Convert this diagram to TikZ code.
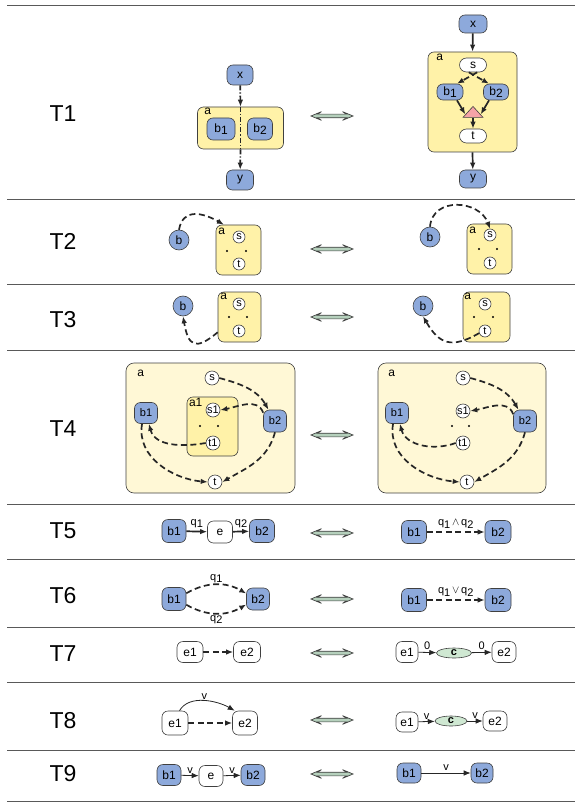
\documentclass[tikz,border=0pt]{standalone}
\usepackage{fontspec}
\setmainfont{Liberation Sans}
\usetikzlibrary{shapes.geometric, shapes.arrows, arrows.meta, calc}
\definecolor{nodeblue}{RGB}{141,169,219}
\definecolor{boxyellow}{RGB}{255,242,168}
\definecolor{paleyellow}{RGB}{255,248,214}
\definecolor{cgreen}{RGB}{207,232,210}
\definecolor{swapgreen}{RGB}{181,208,188}
\definecolor{trired}{RGB}{245,163,168}
\definecolor{rim}{RGB}{64,64,64}
\newcommand{\lo}[2]{#1\raisebox{-2.5pt}{#2}}
\tikzset{
    rule/.style = {draw=black!65, line width=.8pt},
    rowlab/.style = {font=\fontsize{23}{26}\selectfont},
    swap/.style = {double arrow, draw=rim, line width=.7pt, fill=swapgreen, minimum height=42, minimum width=8, double arrow head extend=2.5pt, double arrow tip angle=45, double arrow head indent=4pt, inner sep=1.5pt},
    cont/.style = {draw=rim, line width=.6pt, fill=boxyellow, rounded corners=6pt, inner sep=0pt},
    clab/.style = {inner sep=0pt, font=\fontsize{12}{13}\selectfont},
    vnode/.style = {draw=rim, line width=.6pt, fill=nodeblue, rounded corners=6pt, inner sep=0pt, minimum width=24, minimum height=21, font=\fontsize{12}{13}\selectfont},
    wnode/.style = {vnode, fill=white},
    pnode/.style = {vnode, fill=white, rounded corners=7pt, minimum width=27, minimum height=14},
    circ/.style = {circle, draw=rim, line width=.6pt, fill=nodeblue, inner sep=0pt, minimum size=20, font=\fontsize{12}{13}\selectfont},
    rnode/.style = {circ, fill=white, minimum size=12, font=\fontsize{11}{12}\selectfont},
    dot/.style = {circle, fill=black, inner sep=0pt, minimum size=2.4},
    cnode/.style = {ellipse, draw=rim, line width=.6pt, fill=cgreen, inner sep=0pt, minimum width=35, minimum height=10, font=\bfseries\fontsize{11}{12}\selectfont},
    tri/.style = {isosceles triangle, isosceles triangle stretches, shape border rotate=90, draw=rim, line width=.6pt, fill=trired, inner sep=0pt, minimum width=20, minimum height=11},
    flow/.style = {line width=1.7pt, draw=black!85},
    thin flow/.style = {line width=.8pt, draw=black!85},
    broken/.style = {dash pattern=on 6pt off 3.5pt},
    elab/.style = {inner sep=1pt, font=\fontsize{11}{12}\selectfont},
    >={Latex[length=7pt, width=5.5pt]},
}
\begin{document}
\begin{tikzpicture}[x=1pt, y=1pt]
\useasboundingbox (0,0) rectangle (576,-802);
\foreach \yy in {5,199,284,350,504,559,627,682,750,801}
    \draw[rule] (7,-\yy) -- (575,-\yy);
\foreach \lab/\yy in {T1/114, T2/241, T3/320, T4/429, T5/531, T6/596, T7/654, T8/721, T9/774}
    \node[rowlab] (\lab) at (63,-\yy) {\lab};
\foreach \yy [count=\i] in {116,249,317,435,533,599,653,720,774}
    \node[swap] (sw\i) at (332,-\yy) {};

\node[vnode, minimum width=26, minimum height=20] (L1x) at (240,-75) {x};
\node[cont, minimum width=86, minimum height=42] (L1a) at (240.5,-128) {};
\node[clab] (L1al) at ($(L1a.north west)+(10.5,-5)$) {a};
\node[vnode, minimum width=28, minimum height=22] (L1b1) at (221,-129) {\lo{b}{1}};
\node[vnode, minimum width=25, minimum height=22] (L1b2) at (260,-129) {\lo{b}{2}};
\node[vnode, minimum width=27, minimum height=20] (L1y) at (240,-180) {y};
\draw[flow, dash pattern=on 5pt off 2pt on 1.3pt off 2pt, ->] (L1x) -- (L1a.north);
\draw[flow, dash pattern=on 5pt off 2pt on 1.3pt off 2pt] (L1a.north) -- (L1a.south);
\draw[flow, dash pattern=on 5pt off 2pt on 1.3pt off 2pt, ->] (L1a.south) -- (L1y);

\node[vnode, minimum width=28, minimum height=18] (R1x) at (473,-24) {x};
\node[cont, minimum width=89, minimum height=100] (R1a) at (472.5,-102) {};
\node[clab] (R1al) at ($(R1a.north west)+(12,-6)$) {a};
\node[pnode] (R1s) at (473,-65) {s};
\node[vnode, minimum width=26, minimum height=16, rounded corners=6pt] (R1b1) at (450,-92) {\lo{b}{1}};
\node[vnode, minimum width=25, minimum height=16, rounded corners=6pt] (R1b2) at (496,-92) {\lo{b}{2}};
\node[tri] (R1j) at (473,-113) {};
\node[pnode] (R1t) at (473,-136) {t};
\node[vnode, minimum width=27, minimum height=18] (R1y) at (473,-179) {y};
\draw[flow, ->] (R1x) -- (R1a.north);
\draw[flow, broken, ->] (R1s.-60) -- (R1b1.50);
\draw[flow, broken, ->] (R1s.-120) -- (R1b2.130);
\draw[flow, ->] (R1b1.-50) -- (R1j.190);
\draw[flow, ->] (R1b2.-130) -- (R1j.-10);
\draw[flow, ->] (R1j) -- (R1t);
\draw[flow, ->] (R1a.south) -- (R1y);

\node[circ] (L2b) at (179,-240) {b};
\node[cont, minimum width=45, minimum height=50] (L2a) at (238.5,-250) {};
\node[clab] (L2al) at ($(L2a.north west)+(6,-7)$) {a};
\node[rnode] (L2s) at (239,-237) {s};
\node[rnode] (L2t) at (239,-264) {t};
\node[dot] (L2d1) at (227,-251) {};
\node[dot] (L2d2) at (246,-251) {};
\draw[flow, broken, ->] (L2b.north) to[out=80, in=150, looseness=1.3] (L2a.120);

\node[circ] (R2b) at (430,-237) {b};
\node[cont, minimum width=45, minimum height=50] (R2a) at (489.5,-249) {};
\node[clab] (R2al) at ($(R2a.north west)+(6,-7)$) {a};
\node[rnode] (R2s) at (490,-235) {s};
\node[rnode] (R2t) at (490,-263) {t};
\node[dot] (R2d1) at (479,-249) {};
\node[dot] (R2d2) at (497,-249) {};
\draw[flow, broken, ->] (R2b.north) to[out=85, in=110, looseness=1.3] (R2s.north);

\node[circ] (L3b) at (183,-306) {b};
\node[cont, minimum width=43, minimum height=50] (L3a) at (239.5,-317) {};
\node[clab] (L3al) at ($(L3a.north west)+(6,-5)$) {a};
\node[rnode] (L3s) at (239,-304) {s};
\node[rnode] (L3t) at (239,-331) {t};
\node[dot] (L3d1) at (229,-317) {};
\node[dot] (L3d2) at (247,-317) {};
\draw[flow, broken, ->] (L3a.215) to[out=220, in=-80, looseness=2] (L3b.south);

\node[circ] (R3b) at (423,-306) {b};
\node[cont, minimum width=47, minimum height=50] (R3a) at (486.5,-317) {};
\node[clab] (R3al) at ($(R3a.north west)+(5,-5)$) {a};
\node[rnode] (R3s) at (485,-304) {s};
\node[rnode] (R3t) at (485,-331) {t};
\node[dot] (R3d1) at (474,-317) {};
\node[dot] (R3d2) at (493,-317) {};
\draw[flow, broken, ->] (R3t.200) to[out=210, in=-60, looseness=1.4] (R3b.south);

\node[cont, fill=paleyellow, minimum width=169, minimum height=130, rounded corners=8pt] (L4a) at (210.5,-428) {};
\node[clab] (L4al) at ($(L4a.north west)+(15,-11)$) {a};
\node[rnode, minimum size=14] (L4s) at (212,-378) {s};
\node[vnode, minimum width=23, minimum height=21, font=\fontsize{11}{12}\selectfont] (L4b1) at (146,-413) {b1};
\node[cont, minimum width=51, minimum height=59] (L4a1) at (212.5,-426.5) {};
\node[clab] (L4a1l) at ($(L4a1.north west)+(9,-6)$) {a1};
\node[rnode, minimum size=14] (L4s1) at (213,-410) {s1};
\node[rnode, minimum size=14] (L4t1) at (213,-443) {t1};
\node[dot] (L4d1) at (200,-426) {};
\node[dot] (L4d2) at (218,-426) {};
\node[vnode, minimum width=23, minimum height=22, font=\fontsize{11}{12}\selectfont] (L4b2) at (275,-421) {b2};
\node[rnode, minimum size=14] (L4t) at (215,-482) {t};
\draw[flow, broken, ->] (L4s.east) to[out=-15, in=120] (L4b2.120);
\draw[flow, broken, ->] (L4b2.145) to[out=110, in=10] (L4s1.east);
\draw[flow, broken, ->] (L4t1.west) to[out=190, in=-75] (L4b1.285);
\draw[flow, broken, ->] (L4b1.250) to[out=-100, in=175] (L4t.west);
\draw[flow, broken, ->] (L4b2.south) to[out=-105, in=30] (L4t.east);

\node[cont, fill=paleyellow, minimum width=168, minimum height=130, rounded corners=8pt] (R4a) at (462,-428) {};
\node[clab] (R4al) at ($(R4a.north west)+(14,-11)$) {a};
\node[rnode, minimum size=14] (R4s) at (463,-378) {s};
\node[vnode, minimum width=23, minimum height=21, font=\fontsize{11}{12}\selectfont] (R4b1) at (397,-413) {b1};
\node[rnode, minimum size=14] (R4s1) at (463,-411) {s1};
\node[rnode, minimum size=14] (R4t1) at (463,-443) {t1};
\node[dot] (R4d1) at (452,-426) {};
\node[dot] (R4d2) at (469,-426) {};
\node[vnode, minimum width=23, minimum height=22, font=\fontsize{11}{12}\selectfont] (R4b2) at (525,-421) {b2};
\node[rnode, minimum size=14] (R4t) at (467,-482) {t};
\draw[flow, broken, ->] (R4s.east) to[out=-15, in=120] (R4b2.120);
\draw[flow, broken, ->] (R4b2.150) to[out=110, in=10] (R4s1.east);
\draw[flow, broken, ->] (R4t1.west) to[out=200, in=-75] (R4b1.285);
\draw[flow, broken, ->] (R4b1.250) to[out=-100, in=175] (R4t.west);
\draw[flow, broken, ->] (R4b2.south) to[out=-105, in=30] (R4t.east);

\node[vnode, minimum height=23] (L5b1) at (174,-531) {b1};
\node[wnode, minimum width=25, minimum height=22] (L5e) at (220,-532) {e};
\node[vnode, minimum width=25, minimum height=23] (L5b2) at (262,-531) {b2};
\draw[flow, ->] (L5b1) -- node[elab, above=2pt] (L5q1) {\lo{q}{1}} (L5e);
\draw[flow, ->] (L5e) -- node[elab, above=2pt] (L5q2) {\lo{q}{2}} (L5b2);

\node[vnode, minimum width=25, minimum height=23] (R5b1) at (414,-532) {b1};
\node[vnode, minimum width=26, minimum height=23] (R5b2) at (498,-532) {b2};
\draw[flow, broken, ->] (R5b1) -- node[elab, above=2pt] (R5q) {\lo{q}{1}\,$\wedge$\,\lo{q}{2}} (R5b2);

\node[vnode, minimum height=23] (L6b1) at (174,-599) {b1};
\node[vnode, minimum width=23, minimum height=22] (L6b2) at (258,-599) {b2};
\draw[flow, broken, ->] (L6b1.25) to[bend left=30] node[elab, above] (L6q1) {\lo{q}{1}} (L6b2.155);
\draw[flow, broken, ->] (L6b1.-25) to[bend right=30] node[elab, below] (L6q2) {\lo{q}{2}} (L6b2.-155);

\node[vnode, minimum width=25, minimum height=23] (R6b1) at (414,-600) {b1};
\node[vnode, minimum width=26, minimum height=23] (R6b2) at (498,-600) {b2};
\draw[flow, broken, ->] (R6b1) -- node[elab, above=2pt] (R6q) {\lo{q}{1}\,$\vee$\,\lo{q}{2}} (R6b2);

\node[wnode, minimum width=26] (L7e1) at (190,-652) {e1};
\node[wnode, minimum width=27] (L7e2) at (247,-652) {e2};
\draw[flow, broken, ->] (L7e1) -- (L7e2);

\node[wnode, minimum width=22] (R7e1) at (407,-652) {e1};
\node[cnode] (R7c) at (454,-653) {c};
\node[wnode, minimum width=24] (R7e2) at (504,-652) {e2};
\draw[thin flow, ->] (R7e1) -- node[elab, above=1pt] (R7l1) {0} (R7c);
\draw[thin flow, ->] (R7c) -- node[elab, above=1pt] (R7l2) {0} (R7e2);

\node[wnode, minimum width=26, minimum height=24] (L8e1) at (175,-723) {e1};
\node[wnode, minimum width=25, minimum height=24] (L8e2) at (245,-723) {e2};
\draw[thin flow, ->] (L8e1.70) to[out=60, in=150, looseness=.9] node[elab, above] (L8v) {v} (L8e2.130);
\draw[flow, broken, ->] (L8e1) -- (L8e2);

\node[wnode, minimum width=22, minimum height=20] (R8e1) at (407,-722) {e1};
\node[cnode, minimum width=32] (R8c) at (451,-721) {c};
\node[wnode, minimum width=24, minimum height=20] (R8e2) at (495,-721) {e2};
\draw[thin flow, ->] (R8e1) -- node[elab, above=1pt] (R8v1) {v} (R8c);
\draw[thin flow, ->] (R8c) -- node[elab, above=1pt] (R8v2) {v} (R8e2);

\node[vnode] (L9b1) at (169,-775) {b1};
\node[wnode] (L9e) at (211,-776) {e};
\node[vnode] (L9b2) at (253,-775) {b2};
\draw[thin flow, ->] (L9b1) -- node[elab, above=1pt] (L9v1) {v} (L9e);
\draw[thin flow, ->] (L9e) -- node[elab, above=1pt] (L9v2) {v} (L9b2);

\node[vnode, minimum height=20] (R9b1) at (409,-773) {b1};
\node[vnode, minimum width=22, minimum height=20] (R9b2) at (482,-773) {b2};
\draw[thin flow, ->] (R9b1) -- node[elab, above=1pt] (R9v) {v} (R9b2);
\end{tikzpicture}
\end{document}
